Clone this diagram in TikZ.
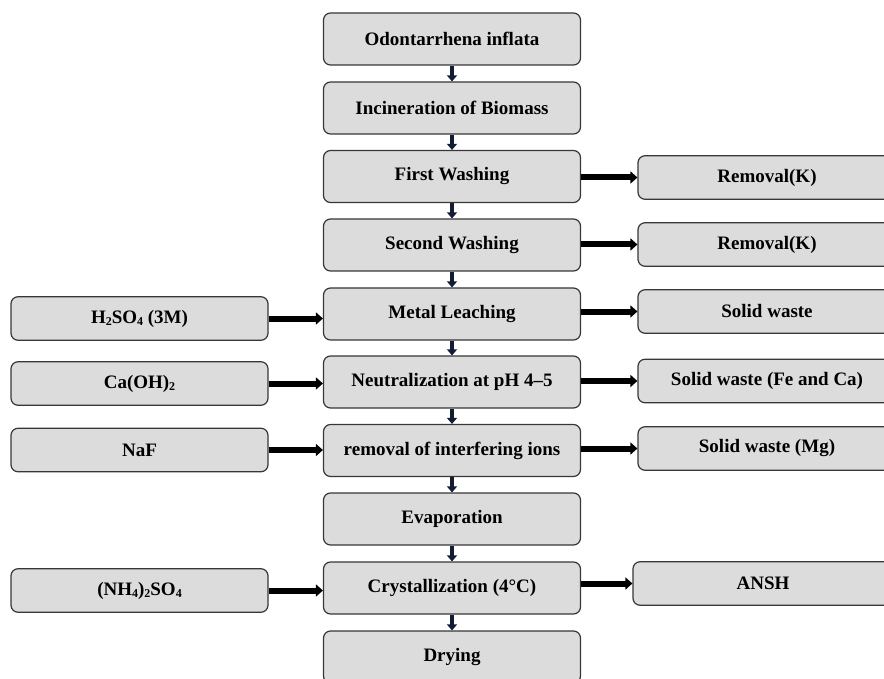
\documentclass[tikz,border=0pt]{standalone}
\usepackage{fontspec}
\setmainfont{Liberation Serif}
\usetikzlibrary{arrows.meta}
\definecolor{boxgray}{RGB}{220,220,220}
\definecolor{boxline}{RGB}{55,55,55}
\definecolor{darknavy}{RGB}{18,28,52}
\newcommand{\chemsub}[1]{\raisebox{-0.25ex}{\fontsize{12}{12}\selectfont #1}}

\begin{document}
\begin{tikzpicture}[x=1pt,y=-1pt,>={Triangle[width=12pt,length=7pt]}]
			\tikzstyle{every node} = [rounded corners=7pt,fill=boxgray,draw=boxline,line width=1.2pt,minimum width=257pt,inner sep=0pt,font=\fontsize{19}{22}\selectfont\bfseries];
			\tikzstyle{main} = [minimum height=52pt];
			\tikzstyle{side} = [minimum height=43.5pt];
			\tikzstyle{down} = [->,>={Triangle[width=10pt,length=6pt]},line width=4.5pt,draw=darknavy];
			\tikzstyle{flow} = [->,line width=6pt,draw=black];
			\useasboundingbox (0,0) rectangle (884,679);
			\clip (0,0) rectangle (884,679);
			% main process column
			\node[main] (p1) at (452,39) {Odontarrhena inflata};
			\node[main] (p2) at (452,108) {Incineration of Biomass};
			\node[main] (p3) at (452,176.5) {First Washing};
			\node[main] (p4) at (452,245) {Second Washing};
			\node[main] (p5) at (452,314) {Metal Leaching};
			\node[main] (p6) at (452,382) {Neutralization at pH 4–5};
			\node[main] (p7) at (452,450.5) {removal of interfering ions};
			\node[main] (p8) at (452,519) {Evaporation};
			\node[main] (p9) at (452,588) {Crystallization (4°C)};
			\node[main] (p10) at (452,657) {Drying};
			% reagents
			\node[side] (l1) at (139.5,318.5) {H\chemsub{2}SO\chemsub{4} (3M)};
			\node[side] (l2) at (139.5,383.5) {Ca(OH)\chemsub{2}};
			\node[side] (l3) at (139.5,450) {NaF};
			\node[side] (l4) at (139.5,590.5) {(NH\chemsub{4})\chemsub{2}SO\chemsub{4}};
			% outputs
			\node[side,minimum width=258pt] (r1) at (767,177.5) {Removal(K)};
			\node[side,minimum width=258pt] (r2) at (767,244.5) {Removal(K)};
			\node[side,minimum width=258pt] (r3) at (767,311.5) {Solid waste};
			\node[side,minimum width=258pt] (r4) at (767,381) {Solid waste (Fe and Ca)};
			\node[side,minimum width=258pt] (r5) at (767,448.5) {Solid waste (Mg)};
			\node[side,minimum width=260pt] (r6) at (763,583.5) {ANSH};
			\draw[down] (p1) -- (p2);
			\draw[down] (p2) -- (p3);
			\draw[down] (p3) -- (p4);
			\draw[down] (p4) -- (p5);
			\draw[down] (p5) -- (p6);
			\draw[down] (p6) -- (p7);
			\draw[down] (p7) -- (p8);
			\draw[down] (p8) -- (p9);
			\draw[down] (p9) -- (p10);
			\draw[flow] (l1.east) -- (l1.east -| p5.west);
			\draw[flow] (l2.east) -- (l2.east -| p6.west);
			\draw[flow] (l3.east) -- (l3.east -| p7.west);
			\draw[flow] (l4.east) -- (l4.east -| p9.west);
			\draw[flow] (r1.west -| p3.east) -- (r1.west);
			\draw[flow] (r2.west -| p4.east) -- (r2.west);
			\draw[flow] (r3.west -| p5.east) -- (r3.west);
			\draw[flow] (r4.west -| p6.east) -- (r4.west);
			\draw[flow] (r5.west -| p7.east) -- (r5.west);
			\draw[flow] (r6.west -| p9.east) -- (r6.west);
		\end{tikzpicture}
\end{document}
